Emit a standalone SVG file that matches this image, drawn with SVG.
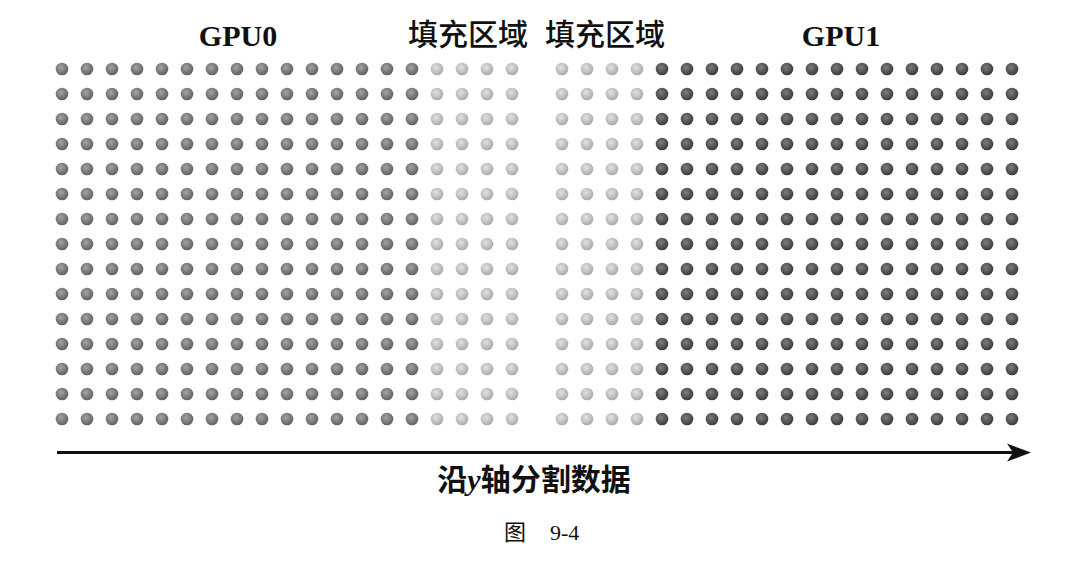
<svg xmlns="http://www.w3.org/2000/svg" xmlns:xlink="http://www.w3.org/1999/xlink" width="1083" height="561" viewBox="0 0 1083 561">
  <style>
    .title { font-family: "Liberation Serif", "Times New Roman", serif; font-weight: bold; font-size: 30px; fill: #111; }
    .cjk { font-family: "Liberation Serif", "Noto Sans CJK SC", serif; font-weight: 500; font-size: 30px; fill: #111; }
    .axis { font-family: "Liberation Serif", "Noto Sans CJK SC", serif; font-weight: bold; font-size: 30px; fill: #111; }
    .cap { font-family: "Liberation Serif", "Noto Sans CJK SC", serif; font-size: 22px; fill: #111; }
  </style>
  <defs>
    <radialGradient id="gA" cx="0.42" cy="0.38" r="0.65">
      <stop offset="0" stop-color="#a4a4a4"/>
      <stop offset="0.55" stop-color="#7c7c7c"/>
      <stop offset="1" stop-color="#5e5e5e"/>
    </radialGradient>
    <radialGradient id="gB" cx="0.42" cy="0.38" r="0.65">
      <stop offset="0" stop-color="#e2e2e2"/>
      <stop offset="0.55" stop-color="#c2c2c2"/>
      <stop offset="1" stop-color="#a6a6a6"/>
    </radialGradient>
    <radialGradient id="gC" cx="0.42" cy="0.38" r="0.65">
      <stop offset="0" stop-color="#7e7e7e"/>
      <stop offset="0.55" stop-color="#565656"/>
      <stop offset="1" stop-color="#383838"/>
    </radialGradient>
    <g id="colA" fill="url(#gA)">
      <circle cx="0" cy="69" r="6.3"/><circle cx="0" cy="94" r="6.3"/><circle cx="0" cy="119" r="6.3"/><circle cx="0" cy="144" r="6.3"/><circle cx="0" cy="169" r="6.3"/>
      <circle cx="0" cy="194" r="6.3"/><circle cx="0" cy="219" r="6.3"/><circle cx="0" cy="244" r="6.3"/><circle cx="0" cy="269" r="6.3"/><circle cx="0" cy="294" r="6.3"/>
      <circle cx="0" cy="319" r="6.3"/><circle cx="0" cy="344" r="6.3"/><circle cx="0" cy="369" r="6.3"/><circle cx="0" cy="394" r="6.3"/><circle cx="0" cy="419" r="6.3"/>
    </g>
    <g id="colB" fill="url(#gB)">
      <circle cx="0" cy="69" r="6.3"/><circle cx="0" cy="94" r="6.3"/><circle cx="0" cy="119" r="6.3"/><circle cx="0" cy="144" r="6.3"/><circle cx="0" cy="169" r="6.3"/>
      <circle cx="0" cy="194" r="6.3"/><circle cx="0" cy="219" r="6.3"/><circle cx="0" cy="244" r="6.3"/><circle cx="0" cy="269" r="6.3"/><circle cx="0" cy="294" r="6.3"/>
      <circle cx="0" cy="319" r="6.3"/><circle cx="0" cy="344" r="6.3"/><circle cx="0" cy="369" r="6.3"/><circle cx="0" cy="394" r="6.3"/><circle cx="0" cy="419" r="6.3"/>
    </g>
    <g id="colC" fill="url(#gC)">
      <circle cx="0" cy="69" r="6.3"/><circle cx="0" cy="94" r="6.3"/><circle cx="0" cy="119" r="6.3"/><circle cx="0" cy="144" r="6.3"/><circle cx="0" cy="169" r="6.3"/>
      <circle cx="0" cy="194" r="6.3"/><circle cx="0" cy="219" r="6.3"/><circle cx="0" cy="244" r="6.3"/><circle cx="0" cy="269" r="6.3"/><circle cx="0" cy="294" r="6.3"/>
      <circle cx="0" cy="319" r="6.3"/><circle cx="0" cy="344" r="6.3"/><circle cx="0" cy="369" r="6.3"/><circle cx="0" cy="394" r="6.3"/><circle cx="0" cy="419" r="6.3"/>
    </g>
  </defs>
  <rect width="1083" height="561" fill="#ffffff"/>

  <g id="gpu0-data">
    <use xlink:href="#colA" href="#colA" x="62"/><use xlink:href="#colA" href="#colA" x="87"/><use xlink:href="#colA" href="#colA" x="112"/>
    <use xlink:href="#colA" href="#colA" x="137"/><use xlink:href="#colA" href="#colA" x="162"/><use xlink:href="#colA" href="#colA" x="187"/>
    <use xlink:href="#colA" href="#colA" x="212"/><use xlink:href="#colA" href="#colA" x="237"/><use xlink:href="#colA" href="#colA" x="262"/>
    <use xlink:href="#colA" href="#colA" x="287"/><use xlink:href="#colA" href="#colA" x="312"/><use xlink:href="#colA" href="#colA" x="337"/>
    <use xlink:href="#colA" href="#colA" x="362"/><use xlink:href="#colA" href="#colA" x="387"/><use xlink:href="#colA" href="#colA" x="412"/>
  </g>
  <g id="gpu0-padding">
    <use xlink:href="#colB" href="#colB" x="437"/><use xlink:href="#colB" href="#colB" x="462"/>
    <use xlink:href="#colB" href="#colB" x="487"/><use xlink:href="#colB" href="#colB" x="512"/>
  </g>
  <g id="gpu1-padding">
    <use xlink:href="#colB" href="#colB" x="562"/><use xlink:href="#colB" href="#colB" x="587"/>
    <use xlink:href="#colB" href="#colB" x="612"/><use xlink:href="#colB" href="#colB" x="637"/>
  </g>
  <g id="gpu1-data">
    <use xlink:href="#colC" href="#colC" x="662"/><use xlink:href="#colC" href="#colC" x="687"/><use xlink:href="#colC" href="#colC" x="712"/>
    <use xlink:href="#colC" href="#colC" x="737"/><use xlink:href="#colC" href="#colC" x="762"/><use xlink:href="#colC" href="#colC" x="787"/>
    <use xlink:href="#colC" href="#colC" x="812"/><use xlink:href="#colC" href="#colC" x="837"/><use xlink:href="#colC" href="#colC" x="862"/>
    <use xlink:href="#colC" href="#colC" x="887"/><use xlink:href="#colC" href="#colC" x="912"/><use xlink:href="#colC" href="#colC" x="937"/>
    <use xlink:href="#colC" href="#colC" x="962"/><use xlink:href="#colC" href="#colC" x="987"/><use xlink:href="#colC" href="#colC" x="1012"/>
  </g>

  <g id="labels">
    <text class="title" x="238" y="46" text-anchor="middle">GPU0</text>
    <text class="title" x="841" y="46" text-anchor="middle">GPU1</text>
    <text class="cjk" x="468" y="45" text-anchor="middle">填充区域</text>
    <text class="cjk" x="605" y="45" text-anchor="middle">填充区域</text>
  </g>

  <g id="connectors">
    <line x1="57" y1="452.5" x2="1014" y2="452.5" stroke="#111" stroke-width="3"/>
    <polygon points="1031,452.5 1007,443.5 1013,452.5 1007,461.5" fill="#111"/>
  </g>

  <g id="axis-label">
    <text class="axis" x="534" y="490" text-anchor="middle">沿<tspan font-style="italic">y</tspan>轴分割数据</text>
  </g>
  <g id="caption">
    <text class="cap" x="504" y="540">图</text>
    <text class="cap" x="550" y="540">9-4</text>
  </g>
</svg>
